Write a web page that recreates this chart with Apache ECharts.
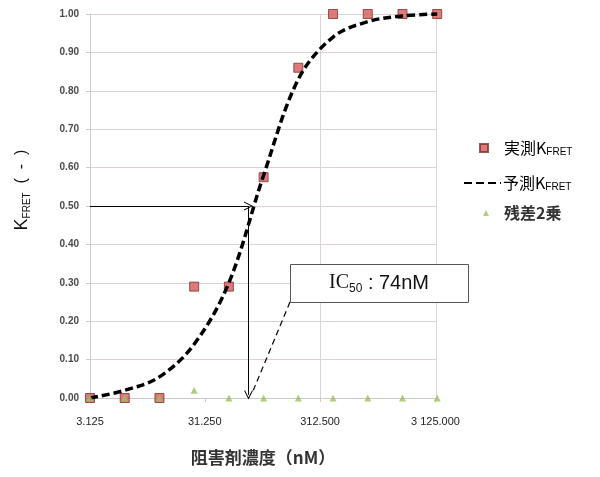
<!DOCTYPE html>
<html>
<head>
<meta charset="utf-8">
<script src="https://cdn.jsdelivr.net/npm/echarts@6/dist/echarts.min.js"></script>
<style>
  html, body { margin: 0; padding: 0; background: #fff; }
  #chart { width: 600px; height: 477px; }
</style>
</head>
<body>
<div id="chart"></div>
<script>
// Inhibitor concentration (nM), two-fold dilution series
const concentrations = [3.125, 6.25, 12.5, 25, 50, 100, 200, 400, 800, 1600, 3200];
// Measured K_FRET at each concentration
const measuredK = [0, 0, 0, 0.29, 0.29, 0.575, 0.86, 1.0, 1.0, 1.0, 1.0];
// Fitted (predicted) K_FRET
const predictedK = [0, 0.02, 0.055, 0.14, 0.30, 0.58, 0.83, 0.94, 0.98, 0.995, 1.0];
// Squared residuals
const residualSq = [0, 0, 0, 0.02, 0, 0, 0, 0, 0, 0, 0];
// Half-inhibitory concentration (nM)
const ic50 = 74;
// Concentration axis range and decade tick base
const xMin = 3.125;
const xMax = 3125;
// Concentrations with vertical reference lines
const xGridValues = [312.5, 3125];

const FONT = '"Noto Sans CJK JP", "Liberation Sans", Arial, sans-serif';
const LATIN = '"Liberation Sans", Arial, sans-serif';

function pairs(xs, ys) { return xs.map((x, i) => [x, ys[i]]); }

// decade ticks sit at xMin * 10^k; snap to remove floating error before formatting
function fmtX(v) {
  const k = Math.round(Math.log10(v / xMin));
  const r = xMin * Math.pow(10, k);
  const s = r.toFixed(3);
  const parts = s.split('.');
  return parts[0].replace(/\B(?=(\d{3})+(?!\d))/g, ' ') + '.' + parts[1];
}

// thin open chevron used as arrow head
const chevron = 'path://M0,10 L5,0 L10,10 L8.8,10 L5,2.4 L1.2,10 Z';

const chart = echarts.init(document.getElementById('chart'), null, { renderer: 'canvas' });

const nameRich = {
  k: { fontSize: 18, color: '#111', fontFamily: LATIN },
  s: { fontSize: 10, color: '#111', fontFamily: LATIN, padding: [10, 0, 0, 0] },
  p: { fontSize: 16, color: '#111', fontFamily: LATIN }
};
const legendRich = {
  k: { fontSize: 16, color: '#000', fontFamily: FONT },
  s: { fontSize: 10, color: '#000', fontFamily: LATIN, padding: [9, 0, 0, 0] }
};

const option = {
  backgroundColor: '#fff',
  animation: false,
  grid: { left: 90, right: 164, top: 14, bottom: 79, containLabel: false },
  xAxis: {
    type: 'log',
    logBase: 10,
    min: xMin,
    max: xMax,
    interval: 1,
    axisLine: { show: true, lineStyle: { color: '#cfc8c8', width: 1 } },
    axisTick: { show: true, length: 4, lineStyle: { color: '#cfc8c8' } },
    splitLine: { show: false },
    minorTick: { show: false },
    axisLabel: {
      margin: 18,
      fontSize: 11,
      color: '#222',
      fontFamily: LATIN,
      formatter: fmtX
    },
    name: '阻害剤濃度（nM）',
    nameLocation: 'middle',
    nameGap: 51,
    nameTextStyle: { fontSize: 17, fontWeight: 'bold', color: '#333', fontFamily: FONT }
  },
  yAxis: {
    type: 'value',
    min: 0,
    max: 1,
    interval: 0.1,
    axisLine: { show: true, lineStyle: { color: '#cfc8c8', width: 1 } },
    axisTick: { show: true, length: 4, inside: false, lineStyle: { color: '#cfc8c8' } },
    splitLine: { show: true, lineStyle: { color: '#dcd4d4', width: 1 } },
    axisLabel: {
      margin: 11,
      fontSize: 10,
      fontWeight: 'bold',
      color: '#4a4a4a',
      fontFamily: LATIN,
      formatter: v => v.toFixed(2)
    },
    name: '{k|K}{s|FRET}{p|  (  -  )}',
    nameLocation: 'middle',
    nameGap: 58,
    nameRotate: 90,
    nameTextStyle: { rich: nameRich, padding: [0, 0, 0, 32] }
  },
  legend: [
    {
      data: ['実測K'], orient: 'vertical', left: 479, top: 140, padding: 0,
      itemWidth: 8, itemHeight: 8,
      formatter: n => '{k|' + n + '}{s|FRET}',
      textStyle: { rich: legendRich, padding: [0, 0, 0, 11] }
    },
    {
      data: ['予測K'], orient: 'vertical', left: 463, top: 175, padding: 0,
      itemWidth: 37, itemHeight: 14,
      itemStyle: { color: 'transparent', borderColor: 'transparent', borderWidth: 0, opacity: 0 },
      formatter: n => '{k|' + n + '}{s|FRET}',
      textStyle: { rich: legendRich, padding: [0, 0, 0, -3] }
    },
    {
      data: ['残差2乗'], orient: 'vertical', left: 483, top: 205, padding: 0,
      itemWidth: 6, itemHeight: 6,
      textStyle: { fontSize: 16, fontWeight: 'bold', color: '#333', fontFamily: FONT, padding: [0, 0, 0, 10] }
    }
  ],
  series: [
    {
      name: '実測K',
      type: 'scatter',
      clip: false,
      symbol: 'rect',
      symbolSize: 9,
      itemStyle: { color: '#d45a5a', borderColor: '#7d3030', borderWidth: 1 },
      data: pairs(concentrations, measuredK),
      z: 3,
      markLine: {
        silent: true,
        symbol: 'none',
        label: { show: false },
        lineStyle: { color: '#dcd4d4', width: 1, type: 'solid' },
        data: xGridValues.map(v => ({ xAxis: v })),
        z: 1
      }
    },
    {
      name: '予測K',
      type: 'line',
      clip: false,
      smooth: 0.35,
      showSymbol: false,
      symbol: 'none',
      lineStyle: { color: '#000', width: 3.5, type: [8, 4] },
      itemStyle: { color: '#000' },
      data: pairs(concentrations, predictedK),
      z: 4,
      markLine: {
        silent: true,
        label: { show: false },
        symbolSize: [9, 9],
        lineStyle: { color: '#000', width: 1, type: 'solid' },
        data: [
          [
            { coord: [concentrations[0], 0.5], symbol: 'none' },
            { coord: [ic50, 0.5], symbol: chevron }
          ],
          [
            { coord: [ic50, 0.5], symbol: 'none' },
            { coord: [ic50, 0.008], symbol: chevron }
          ]
        ]
      }
    },
    {
      name: '残差2乗',
      type: 'scatter',
      clip: false,
      symbol: 'triangle',
      symbolSize: 7,
      itemStyle: { color: '#9bbf5f' },
      data: pairs(concentrations, residualSq),
      z: 5
    }
  ]
};

chart.setOption(option);

// IC50 call-out box with a dashed leader toward the IC50 position on the axis
const tip = chart.convertToPixel({ xAxisIndex: 0, yAxisIndex: 0 }, [ic50 * 1.1, 0.02]);
const box = { x: 290, y: 264, w: 178, h: 38 };
chart.setOption({
  graphic: [
    {
      type: 'line',
      shape: { x1: box.x, y1: box.y + box.h, x2: tip[0], y2: tip[1] },
      style: { stroke: '#000', lineWidth: 1.2, lineDash: [6, 4] },
      z: 10
    },
    {
      type: 'rect',
      shape: { x: box.x + 0.5, y: box.y + 0.5, width: box.w, height: box.h },
      style: { fill: '#fff', stroke: '#555', lineWidth: 1 },
      z: 11
    },
    {
      type: 'text',
      x: box.x + box.w / 2,
      y: box.y + box.h / 2,
      style: {
        text: '{ic|IC}{sub|50}{t| : 74nM}',
        align: 'center',
        verticalAlign: 'middle',
        rich: {
          ic: { fontSize: 20, fontFamily: '"Liberation Serif", "DejaVu Serif", serif', fill: '#111' },
          sub: { fontSize: 12, fontFamily: LATIN, fill: '#111', padding: [11, 0, 0, 0] },
          t: { fontSize: 20, fontFamily: LATIN, fill: '#111' }
        }
      },
      z: 12
    }
  ]
});
</script>
</body>
</html>
